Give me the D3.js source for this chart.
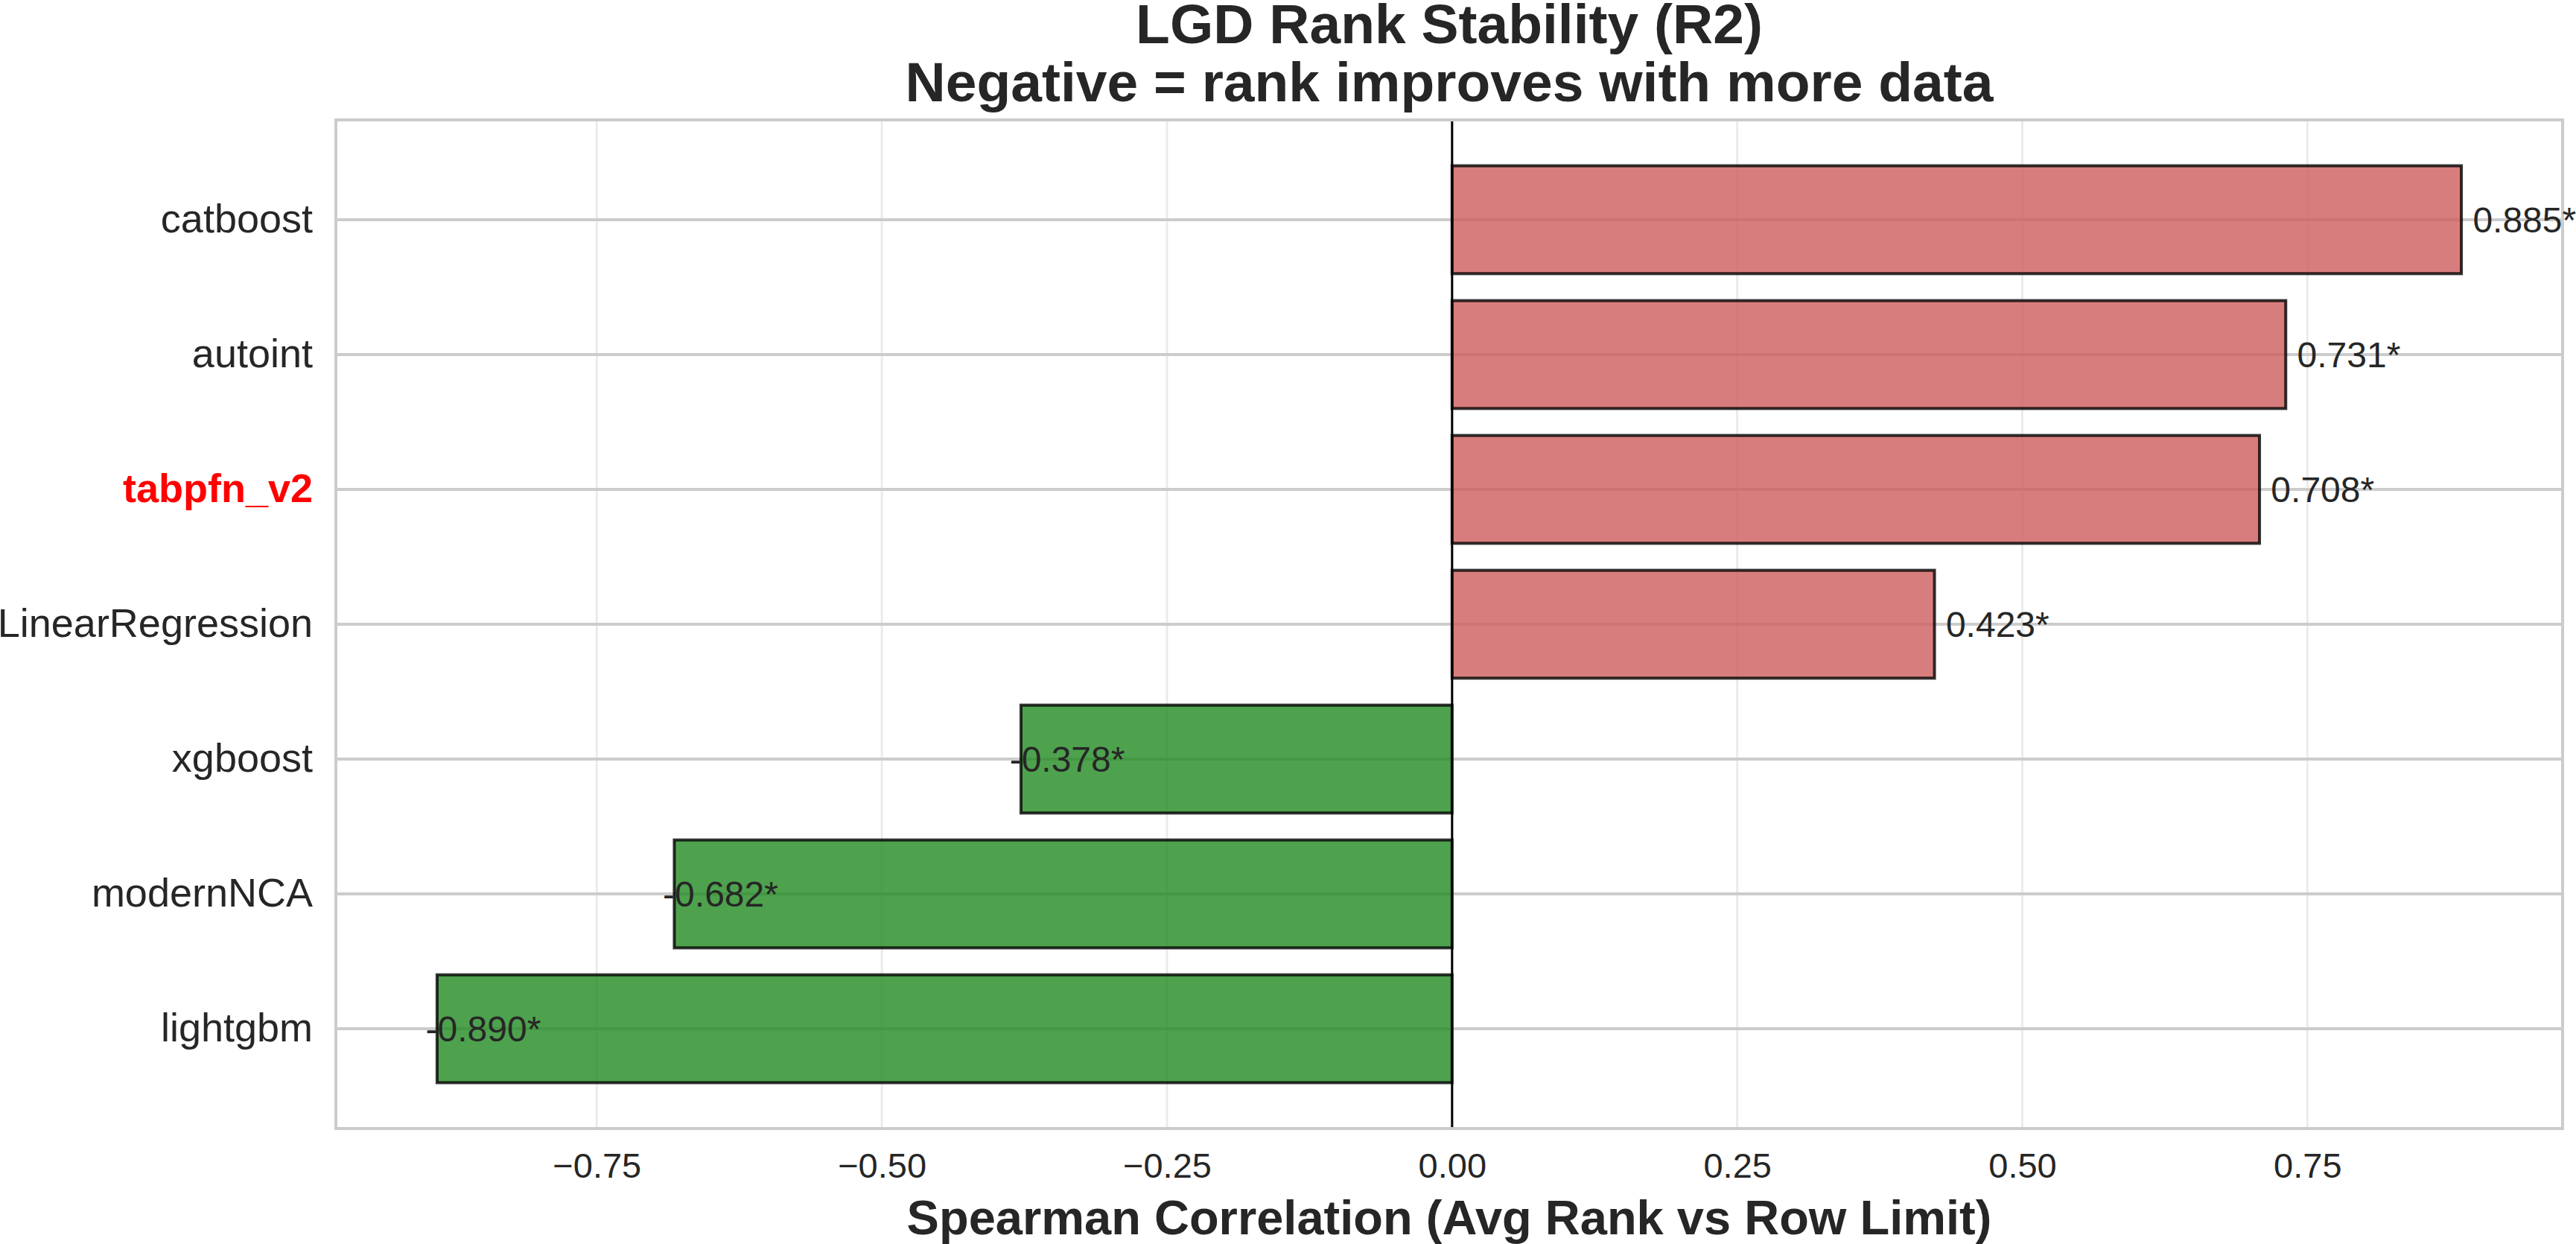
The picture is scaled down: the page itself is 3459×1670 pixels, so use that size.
<!DOCTYPE html>
<html>
<head>
<meta charset="utf-8">
<script src="https://cdn.jsdelivr.net/npm/d3@7"></script>
<style>
  body { margin: 0; background: #fff; }
  text { font-family: "Liberation Sans", Arial, sans-serif; fill: #262626; }
</style>
</head>
<body>
<script>
// data
var models = ['catboost', 'autoint', 'tabpfn_v2', 'LinearRegression', 'xgboost', 'modernNCA', 'lightgbm']
var rhos = [0.885, 0.731, 0.708, 0.423, -0.378, -0.682, -0.890]
var significant = [true, true, true, true, true, true, true]
var xTicks = [-0.75, -0.50, -0.25, 0.00, 0.25, 0.50, 0.75]
var highlight = 'tabpfn_v2'

var width = 3459
var height = 1670
// plot box (note: "top" is a reserved window global, so use prefixed names)
var plotLeft = 451, plotRight = 3441, plotTop = 161, plotBottom = 1515

var data = models.map(function(m, i) {
    return { model: m, rho: rhos[i], sig: significant[i] }
})

var svg = d3.select('body')
    .append('svg')
    .attr('width', width)
    .attr('height', height)

// matplotlib style 5% margins
var lo = d3.min(rhos), hi = d3.max(rhos)
var pad = (hi - lo) * 0.05
var xScale = d3.scaleLinear()
    .domain([lo - pad, hi + pad])
    .range([plotLeft, plotRight])

var yScale = d3.scaleBand()
    .domain(models)
    .range([plotTop, plotBottom])
    .paddingInner(0.2)
    .paddingOuter(0.34)

var g = svg.append('g')

// vertical grid (faint)
g.selectAll('.vgrid')
    .data(xTicks)
    .enter()
    .append('line')
    .attr('x1', d => xScale(d))
    .attr('x2', d => xScale(d))
    .attr('y1', plotTop)
    .attr('y2', plotBottom)
    .style('stroke', '#ebebeb')
    .style('stroke-width', 3)

// horizontal grid
g.selectAll('.hgrid')
    .data(models)
    .enter()
    .append('line')
    .attr('x1', plotLeft)
    .attr('x2', plotRight)
    .attr('y1', d => yScale(d) + yScale.bandwidth() / 2)
    .attr('y2', d => yScale(d) + yScale.bandwidth() / 2)
    .style('stroke', '#cccccc')
    .style('stroke-width', 4)

// bars
g.selectAll('rect.bar')
    .data(data)
    .enter()
    .append('rect')
    .attr('class', 'bar')
    .attr('x', d => xScale(Math.min(0, d.rho)))
    .attr('y', d => yScale(d.model))
    .attr('width', d => Math.abs(xScale(d.rho) - xScale(0)))
    .attr('height', yScale.bandwidth())
    .style('fill', d => d.rho > 0 ? '#cd5c5c' : '#228b22')
    .style('fill-opacity', 0.8)
    .style('stroke', '#000')
    .style('stroke-opacity', 0.8)
    .style('stroke-width', 4)

// zero line
g.append('line')
    .attr('x1', xScale(0))
    .attr('x2', xScale(0))
    .attr('y1', plotTop)
    .attr('y2', plotBottom)
    .style('stroke', '#000')
    .style('stroke-width', 3)

// frame
g.append('rect')
    .attr('x', plotLeft)
    .attr('y', plotTop)
    .attr('width', plotRight - plotLeft)
    .attr('height', plotBottom - plotTop)
    .style('fill', 'none')
    .style('stroke', '#cccccc')
    .style('stroke-width', 4)

// value labels
g.selectAll('text.val')
    .data(data)
    .enter()
    .append('text')
    .attr('class', 'val')
    .attr('x', d => xScale(d.rho + (d.rho > 0 ? 0.01 : -0.01)))
    .attr('y', d => yScale(d.model) + yScale.bandwidth() / 2)
    .attr('dy', '0.35em')
    .style('font-size', '48px')
    .text(d => d.rho.toFixed(3) + (d.sig ? '*' : ''))

// x axis
var xAxis = g.append('g')
    .attr('transform', 'translate(0,' + plotBottom + ')')
    .call(d3.axisBottom(xScale).tickValues(xTicks).tickFormat(d3.format('.2f')).tickSize(0))
xAxis.select('.domain').remove()
xAxis.selectAll('text')
    .attr('y', 66)
    .attr('dy', 0)
    .style('font-size', '47px')
    .style('font-family', '"Liberation Sans", Arial, sans-serif')
    .style('fill', '#262626')

// y axis
var yAxis = g.append('g')
    .attr('transform', 'translate(' + plotLeft + ',0)')
    .call(d3.axisLeft(yScale).tickSize(0).tickPadding(31))
yAxis.select('.domain').remove()
yAxis.selectAll('text')
    .style('font-size', '54px')
    .style('font-family', '"Liberation Sans", Arial, sans-serif')
    .style('fill', d => d == highlight ? '#ff0000' : '#262626')
    .style('font-weight', d => d == highlight ? 'bold' : 'normal')

// x axis title
svg.append('text')
    .text('Spearman Correlation (Avg Rank vs Row Limit)')
    .attr('x', (plotLeft + plotRight) / 2)
    .attr('y', 1657)
    .attr('text-anchor', 'middle')
    .style('font-size', '65px')
    .style('font-weight', 'bold')

// title
var title = svg.append('text')
    .attr('text-anchor', 'middle')
    .style('font-size', '75px')
    .style('font-weight', 'bold')
title.append('tspan')
    .attr('x', (plotLeft + plotRight) / 2)
    .attr('y', 58)
    .text('LGD Rank Stability (R2)')
title.append('tspan')
    .attr('x', (plotLeft + plotRight) / 2)
    .attr('y', 136)
    .text('Negative = rank improves with more data')
</script>
</body>
</html>
